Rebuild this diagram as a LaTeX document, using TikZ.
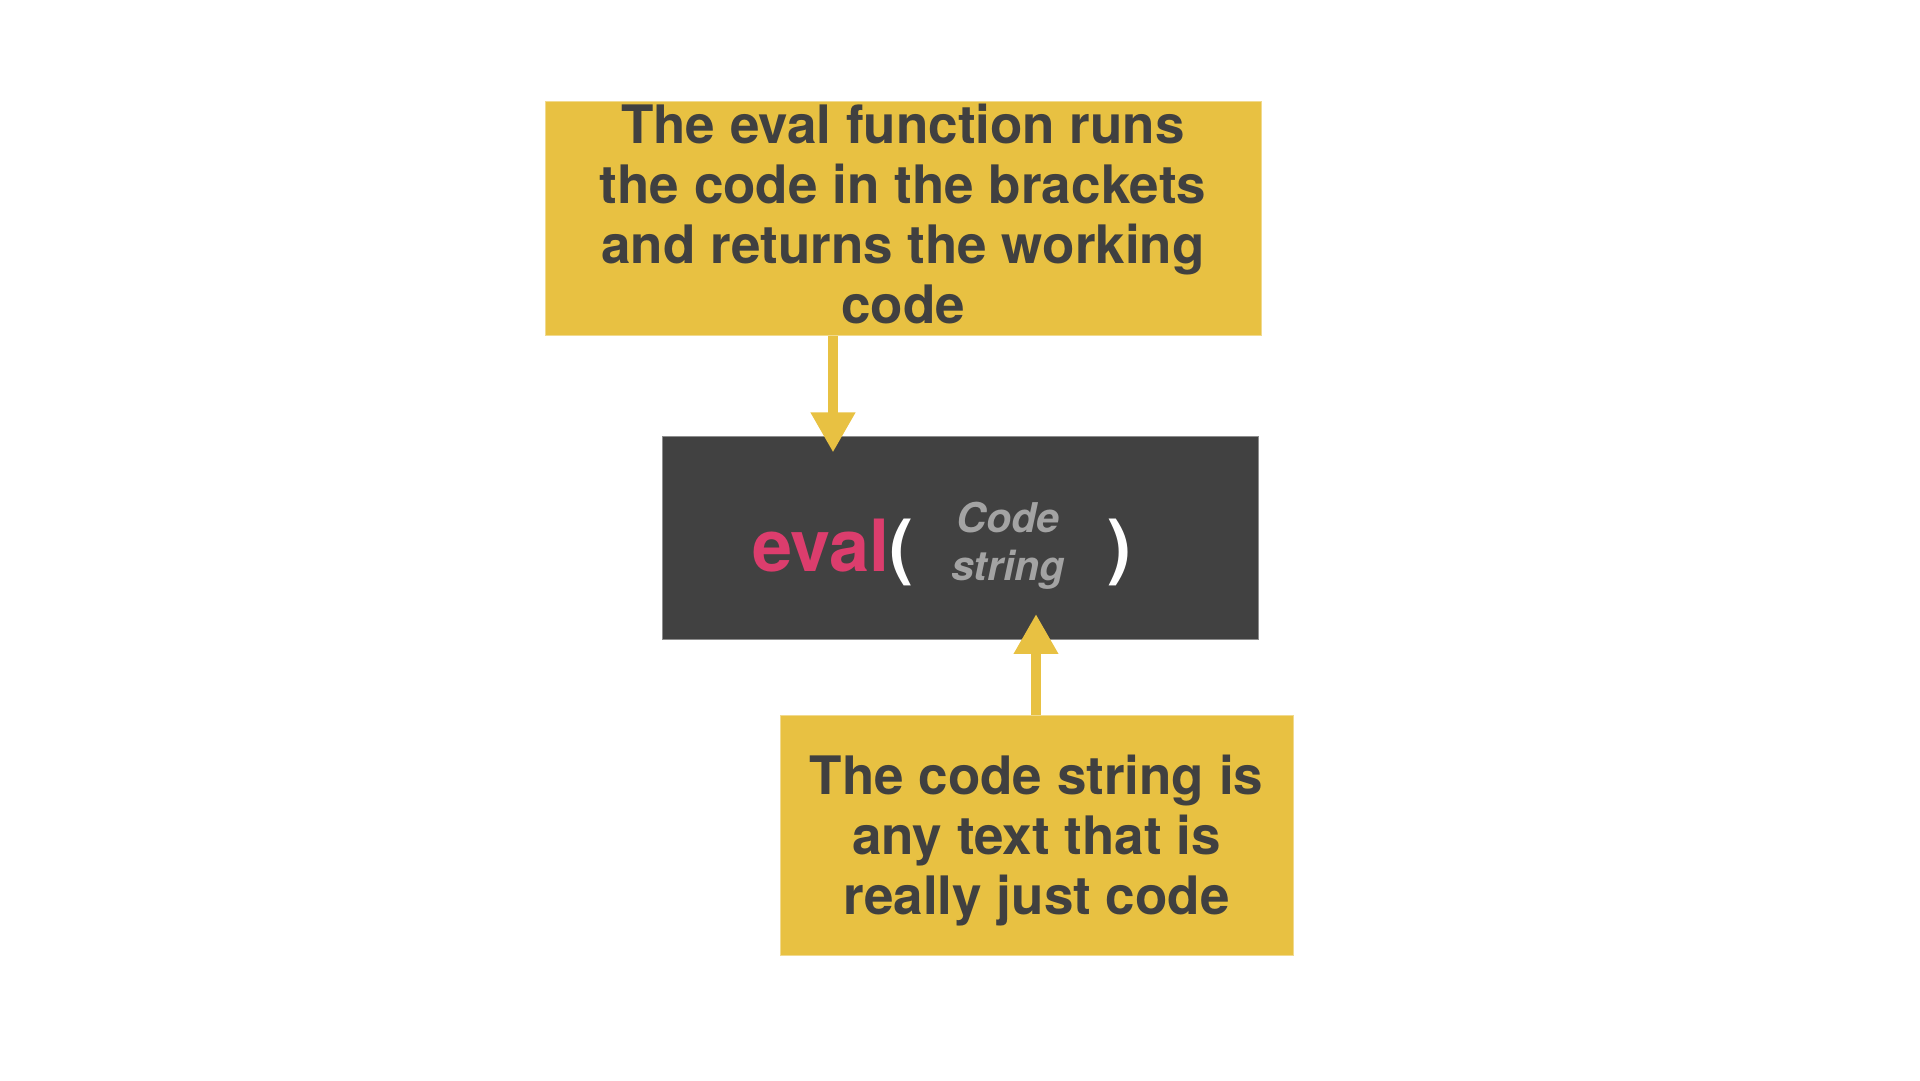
\documentclass[tikz,border=0pt]{standalone}
\usepackage{fontspec}
\setmainfont{TeX Gyre Heros}
\usetikzlibrary{arrows.meta}
\definecolor{noteyellow}{HTML}{E8C142}
\definecolor{textgrey}{HTML}{404040}
\definecolor{codegrey}{HTML}{414141}
\definecolor{evalpink}{HTML}{DC3D6D}
\definecolor{arggrey}{HTML}{A3A3A3}

\begin{document}
\begin{tikzpicture}[x = 1pt, y = 1pt,
	note/.style = {fill = noteyellow, draw = noteyellow!60!white, line width = 1pt, align = center, text = textgrey, font = \fontsize{53}{60}\selectfont\bfseries, inner sep = 0pt},
	codeword/.style = {anchor = base west, inner sep = 0pt, font = \fontsize{72}{74}\selectfont\bfseries},
	argword/.style = {anchor = base, inner sep = 0pt, text = arggrey, font = \fontsize{41}{44}\selectfont\bfseries\itshape},
	pointer/.style = {draw = noteyellow, line width = 10pt, -{Triangle[width = 42pt, length = 40pt]}}]
		\useasboundingbox (0,0) rectangle (1920,1080);
		
		% the two notes
		\node[note, minimum width = 716pt, minimum height = 234pt, text depth = 10pt] (evalnote) at (903,861.5) {The eval function runs\\the code in the brackets\\and returns the working\\code};
		\node[note, minimum width = 513pt, minimum height = 239pt, text depth = 1pt] (stringnote) at (1036.5,244.5) {The code string is\\any text that is\\really just code};
		
		% the code box
		\node[fill = codegrey, draw = codegrey!60!white, line width = 1pt, minimum width = 596pt, minimum height = 203pt] (code) at (960,541.5) {};
		\node[codeword, text = evalpink] (evalword) at (752,508) {eval};
		\node[codeword, text = white] (lparen) at (889,508) {(};
		\node[argword] (codepart) at (1008,547) {Code};
		\node[argword] (stringpart) at (1008,499) {string};
		\node[codeword, text = white] (rparen) at (1107,508) {)};
		
		% pointers
		\draw[pointer] ([xshift = -70pt]evalnote.south) -- ([xshift = -127pt, yshift = -16pt]code.north);
		\draw[pointer] ([xshift = -0.5pt]stringnote.north) -- ([xshift = 76pt, yshift = 26.5pt]code.south);
		
\end{tikzpicture}
\end{document}
